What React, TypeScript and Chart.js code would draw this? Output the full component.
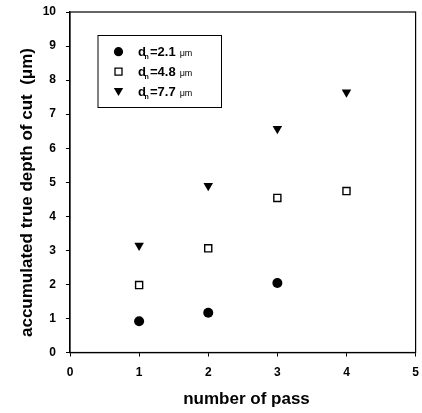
import React, { useEffect, useRef } from "react";
import { Chart, registerables } from "chart.js";

Chart.register(...registerables);

const passes = [1, 2, 3, 4];
const series21 = [0.92, 1.17, 2.04];
const series48 = [1.98, 3.06, 4.54, 4.74];
const series77 = [3.14, 4.9, 6.57, 7.64];
const legendLabels = ["=2.1 \u03bcm", "=4.8 \u03bcm", "=7.7 \u03bcm"];
const xTitle = "number of pass";
const yTitle = "accumulated true depth of cut  (\u03bcm)";

const FONT = "'Liberation Sans', Arial, sans-serif";

export default function App() {
  const ref = useRef<HTMLCanvasElement | null>(null);
  useEffect(() => {
    document.body.style.margin = "0";
    const canvas = ref.current!;
    const pts = (ys: number[]) => ys.map((y, i) => ({ x: passes[i], y }));
    const styles = ["circle", "rect", "triangle"] as const;

    const framePlugin = {
      id: "frame",
      afterDraw(chart: any) {
        const { ctx, chartArea: a } = chart;
        ctx.save();
        ctx.strokeStyle = "#000";
        ctx.lineWidth = 1.2;
        ctx.strokeRect(a.left, a.top, a.right - a.left, a.bottom - a.top);
        // axis titles
        ctx.fillStyle = "#000";
        ctx.font = `bold 17px ${FONT}`;
        ctx.textAlign = "center";
        ctx.textBaseline = "alphabetic";
        ctx.fillText(xTitle, 246.5, 404);
        ctx.translate(32, 192.5);
        ctx.rotate(-Math.PI / 2);
        ctx.fillText(yTitle, 0, 0);
        ctx.restore();

        // legend
        ctx.save();
        ctx.strokeStyle = "#000";
        ctx.lineWidth = 1;
        ctx.strokeRect(98, 35.5, 123.5, 72);
        const rowsY = [51.7, 71.7, 91.7];
        rowsY.forEach((y, i) => {
          const x = 118.5;
          ctx.beginPath();
          ctx.fillStyle = "#000";
          ctx.strokeStyle = "#000";
          if (i === 0) {
            ctx.arc(x, y, 4.6, 0, Math.PI * 2);
            ctx.fill();
          } else if (i === 1) {
            ctx.fillStyle = "#fff";
            ctx.lineWidth = 1.3;
            ctx.rect(x - 3.5, y - 3.5, 7, 7);
            ctx.fill();
            ctx.stroke();
          } else {
            ctx.moveTo(x - 4.7, y - 3.8);
            ctx.lineTo(x + 4.7, y - 3.8);
            ctx.lineTo(x, y + 4.3);
            ctx.closePath();
            ctx.fill();
          }
          ctx.fillStyle = "#000";
          ctx.textAlign = "left";
          ctx.textBaseline = "alphabetic";
          const base = y + 4.3;
          ctx.font = `bold 13px ${FONT}`;
          ctx.fillText("d", 138, base);
          ctx.font = `bold 7px ${FONT}`;
          ctx.fillText("n", 144.5, base + 3);
          ctx.font = `bold 13px ${FONT}`;
          const t = legendLabels[i];
          const numPart = t.split(" ")[0];
          ctx.fillText(numPart, 150, base);
          const w = ctx.measureText(numPart).width;
          ctx.font = `9px ${FONT}`;
          ctx.fillText("\u03bcm", 150 + w + 4, base);
        });
        ctx.restore();
      },
    };

    const chart = new Chart(canvas, {
      type: "scatter",
      data: {
        datasets: [series21, series48, series77].map((s, i) => ({
          label: legendLabels[i],
          data: pts(s),
          pointStyle: styles[i],
          pointRadius: i === 0 ? 5 : i === 1 ? 5 : 5.5,
          pointBackgroundColor: i === 1 ? "#fff" : "#000",
          pointBorderColor: "#000",
          pointBorderWidth: i === 1 ? 1.4 : 0,
          rotation: i === 2 ? 180 : 0,
        })) as any,
      },
      options: {
        animation: false,
        responsive: false,
        maintainAspectRatio: false,
        layout: { padding: { top: 12, right: 2.5, left: 0, bottom: 0 } },
        plugins: { legend: { display: false }, tooltip: { enabled: false } },
        scales: {
          x: {
            type: "linear",
            min: 0,
            max: 5,
            afterFit(s: any) {
              s.height = 60.5;
              s.paddingLeft = 0;
              s.paddingRight = 0;
            },
            ticks: {
              stepSize: 1,
              color: "#000",
              padding: 9,
              font: { family: FONT, size: 12, weight: "bold" },
            },
            grid: {
              drawOnChartArea: false,
              tickLength: 4,
              color: "#000",
            },
            border: { color: "#000", width: 1.2 },
          },
          y: {
            type: "linear",
            min: 0,
            max: 10,
            afterFit(s: any) {
              s.width = 70;
              s.paddingTop = 0;
              s.paddingBottom = 0;
            },
            ticks: {
              stepSize: 1,
              color: "#000",
              padding: 10,
              font: { family: FONT, size: 12, weight: "bold" },
            },
            grid: {
              drawOnChartArea: false,
              tickLength: 4,
              color: "#000",
            },
            border: { color: "#000", width: 1.2 },
          },
        },
      },
      plugins: [framePlugin],
    });
    return () => chart.destroy();
  }, []);
  return (
    <div style={{ width: 422, height: 413 }}>
      <canvas ref={ref} width={422} height={413} />
    </div>
  );
}
